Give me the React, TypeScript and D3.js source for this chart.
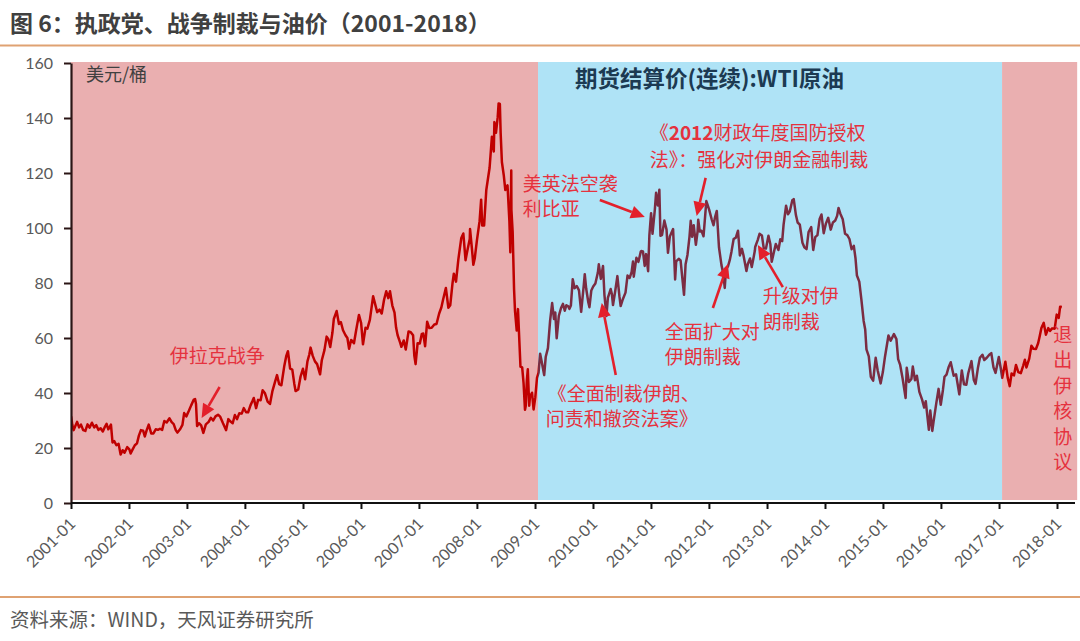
import React, { useEffect, useRef } from "react";
import * as d3 from "d3";

type Obs = [string, number]; // [MM-DD, WTI settle, USD/bbl]

const wti2001: Obs[] = [["01-02",31.5],["01-09",28.5],["01-18",26.5],["01-30",28.2],["02-09",29.5],["02-22",27.5],["03-06",28.5],["03-20",26.5],["04-03",26.2],["04-17",28.6],["04-30",27.4],["05-15",29.2],["05-30",27.5],["06-12",28.3],["06-26",26.6],["07-10",27.2],["07-24",26.0],["08-07",27.8],["08-17",28.8],["08-28",26.8],["09-06",27.6],["09-14",28.5],["09-24",22.0],["10-05",22.5],["10-19",21.0],["11-02",21.5],["11-15",17.6],["11-28",19.2],["12-10",18.3],["12-27",20.3]];
const wti2002: Obs[] = [["01-10",19.5],["01-18",18.0],["01-31",19.5],["02-14",21.0],["02-28",21.7],["03-12",24.5],["03-25",26.5],["04-08",26.3],["04-19",24.2],["05-01",26.5],["05-14",28.5],["05-30",25.3],["06-13",25.3],["06-28",26.8],["07-12",26.6],["07-25",27.0],["08-08",26.6],["08-22",29.8],["09-06",29.3],["09-24",30.8],["10-08",29.4],["10-21",28.7],["11-04",26.4],["11-14",25.6],["12-02",26.9],["12-16",28.4],["12-27",32.7]];
const wti2003: Obs[] = [["01-10",31.5],["01-27",33.6],["02-10",35.5],["02-27",37.6],["03-07",37.8],["03-13",36.0],["03-20",28.0],["04-01",29.0],["04-15",28.2],["04-29",25.5],["05-15",28.6],["06-02",29.5],["06-16",31.0],["07-01",30.0],["07-16",31.5],["08-01",32.1],["08-15",31.4],["09-02",29.0],["09-22",26.5],["10-06",30.5],["10-20",29.6],["11-03",29.0],["11-17",32.0],["12-01",30.5],["12-15",32.6],["12-31",32.5]];
const wti2004: Obs[] = [["01-13",34.5],["01-28",33.0],["02-10",33.0],["02-25",35.5],["03-08",37.0],["03-17",38.2],["04-01",34.5],["04-14",37.5],["04-30",37.4],["05-13",41.0],["05-28",39.9],["06-14",36.9],["06-29",36.0],["07-15",40.8],["07-30",43.8],["08-13",46.5],["08-27",43.2],["09-10",42.8],["09-28",49.6],["10-12",53.6],["10-22",55.2],["11-05",48.9],["11-19",48.5],["12-02",43.3],["12-10",40.7],["12-27",41.3]];
const wti2005: Obs[] = [["01-11",46.0],["01-26",48.8],["02-09",45.0],["02-24",51.5],["03-08",54.0],["03-16",56.5],["03-30",53.5],["04-13",51.5],["04-27",50.5],["05-16",46.8],["05-27",51.9],["06-13",55.6],["06-27",60.5],["07-08",59.6],["07-20",56.7],["08-03",61.9],["08-12",66.9],["08-30",69.8],["09-14",65.1],["09-26",65.8],["10-10",62.8],["10-26",61.0],["11-07",60.0],["11-18",56.1],["12-01",59.3],["12-19",58.1]];
const wti2006: Obs[] = [["01-03",63.1],["01-20",68.4],["02-03",65.4],["02-15",57.7],["03-03",63.7],["03-15",63.4],["03-31",66.6],["04-21",75.2],["05-03",72.5],["05-17",69.4],["06-01",70.3],["06-15",68.9],["06-30",73.9],["07-14",77.0],["07-27",74.5],["08-07",77.0],["08-22",71.8],["09-05",69.2],["09-15",63.8],["09-25",61.0],["10-10",58.5],["10-19",56.8],["11-03",59.1],["11-16",55.8],["12-04",62.4],["12-18",62.1]];
const wti2007: Obs[] = [["01-02",61.0],["01-10",53.5],["01-18",50.5],["01-31",58.1],["02-14",58.0],["02-27",61.5],["03-08",61.6],["03-20",57.0],["04-02",65.9],["04-16",63.6],["05-01",63.7],["05-18",64.9],["06-01",65.1],["06-18",68.9],["07-02",71.1],["07-13",73.9],["07-31",78.2],["08-16",71.0],["08-28",71.9],["09-12",80.1],["09-20",83.4],["10-04",80.5],["10-19",88.6],["11-07",96.4],["11-20",98.0],["12-04",88.3],["12-14",91.3],["12-31",96.0]];
const wti2008: Obs[] = [["01-02",99.6],["01-15",91.9],["01-23",86.6],["02-01",88.9],["02-15",95.5],["03-03",102.5],["03-13",110.3],["03-20",100.9],["04-01",100.9],["04-15",113.8],["04-28",118.8],["05-06",121.8],["05-21",133.2],["06-02",127.8],["06-06",138.5],["06-16",134.6],["06-27",140.2],["07-03",145.3],["07-11",145.1],["07-16",134.6],["07-24",124.0],["08-05",119.2],["08-15",113.8],["08-29",115.5],["09-10",102.6],["09-16",91.2],["09-22",120.9],["09-23",106.6],["10-01",98.5],["10-10",77.7],["10-16",69.9],["10-27",62.7],["11-04",70.5],["11-20",49.6],["12-01",49.3],["12-10",43.5],["12-19",33.9],["12-24",35.4],["12-31",44.6]];
const wti2009: Obs[] = [["01-06",48.6],["01-15",35.4],["01-20",38.7],["02-02",40.1],["02-12",34.0],["02-23",38.4],["03-06",45.5],["03-16",47.4],["03-26",54.3],["04-06",51.1],["04-21",46.5],["05-01",53.2],["05-15",56.3],["05-29",66.3],["06-11",72.7],["06-23",66.9],["07-01",69.3],["07-10",59.9],["07-24",68.1],["08-07",70.9],["08-19",72.4],["08-31",69.9],["09-10",71.9],["09-22",71.5],["09-30",70.6],["10-09",71.8],["10-21",81.4],["11-02",78.1],["11-16",78.9],["11-30",77.3],["12-14",69.5],["12-31",79.4]];
const wti2010: Obs[] = [["01-06",83.2],["01-15",78.0],["01-29",72.9],["02-05",71.2],["02-17",77.3],["03-01",78.7],["03-15",79.8],["03-31",83.8],["04-06",86.8],["04-19",81.5],["05-03",86.2],["05-12",75.7],["05-25",68.0],["06-03",74.6],["06-21",77.8],["06-29",75.9],["07-06",72.0],["07-20",77.0],["08-03",82.5],["08-16",75.2],["08-24",71.6],["09-07",74.1],["09-24",76.5],["10-07",82.7],["10-20",81.8],["11-02",83.9],["11-11",87.8],["11-16",82.3],["12-03",89.2],["12-16",87.7],["12-31",91.4]];
const wti2011: Obs[] = [["01-03",91.6],["01-14",91.5],["01-25",86.2],["02-03",90.5],["02-16",84.3],["02-24",97.3],["03-07",105.4],["03-16",97.9],["03-31",106.7],["04-08",112.8],["04-19",108.2],["04-29",113.9],["05-06",97.2],["05-16",97.4],["05-31",102.7],["06-14",99.4],["06-23",91.0],["07-05",96.9],["07-26",99.6],["08-08",81.3],["08-15",87.9],["08-31",88.8],["09-12",88.2],["09-26",80.2],["10-04",75.7],["10-14",86.8],["10-26",90.2],["11-08",96.8],["11-16",102.6],["11-25",96.8],["12-05",101.0],["12-19",93.9],["12-30",98.8]];
const wti2012: Obs[] = [["01-03",103.0],["01-13",98.7],["01-24",99.0],["02-06",97.0],["02-24",109.8],["03-01",108.8],["03-13",106.7],["03-30",103.0],["04-10",101.0],["04-20",104.0],["05-01",106.2],["05-15",93.0],["05-31",86.5],["06-12",83.3],["06-21",78.2],["06-29",85.0],["07-12",86.1],["07-24",88.5],["08-03",91.4],["08-17",96.0],["08-31",96.5],["09-14",99.0],["09-26",90.0],["10-09",92.4],["10-19",90.1],["11-07",84.4],["11-16",86.9],["11-30",88.9],["12-11",85.8],["12-21",88.7],["12-31",91.8]];
const wti2013: Obs[] = [["01-02",93.1],["01-18",95.6],["01-30",97.9],["02-14",97.3],["02-26",92.6],["03-12",92.5],["03-28",97.2],["04-09",94.2],["04-18",87.7],["05-01",91.0],["05-14",94.2],["05-31",92.0],["06-12",95.9],["06-24",95.2],["07-03",101.2],["07-19",108.1],["07-31",105.0],["08-12",106.1],["08-28",110.1],["09-06",110.5],["09-20",104.7],["10-01",102.0],["10-15",101.2],["11-01",94.6],["11-13",93.0],["11-27",92.3],["12-10",98.5],["12-27",100.3]];
const wti2014: Obs[] = [["01-09",92.0],["01-22",96.7],["02-05",97.4],["02-19",103.3],["03-03",104.9],["03-17",98.1],["03-31",101.6],["04-15",103.7],["05-01",99.4],["05-15",102.0],["05-30",102.7],["06-11",104.4],["06-20",107.3],["07-01",105.3],["07-17",103.2],["08-01",97.9],["08-15",97.4],["08-29",96.0],["09-12",92.3],["09-26",93.5],["10-07",88.9],["10-16",82.7],["10-31",80.5],["11-13",74.2],["11-28",66.2],["12-08",63.1],["12-16",55.9],["12-31",53.3]];
const wti2015: Obs[] = [["01-13",45.9],["01-28",44.5],["02-13",52.8],["02-26",48.2],["03-17",43.5],["03-31",47.6],["04-14",53.3],["05-06",60.9],["05-20",59.0],["06-10",61.4],["06-26",59.6],["07-07",52.3],["07-20",50.2],["08-05",45.2],["08-24",38.2],["08-31",49.2],["09-14",44.0],["09-30",45.1],["10-09",49.6],["10-23",44.6],["11-04",46.3],["11-20",40.4],["12-07",37.7],["12-21",34.7],["12-31",37.0]];
const wti2016: Obs[] = [["01-07",33.3],["01-20",26.6],["01-29",33.6],["02-11",26.2],["02-19",29.6],["03-08",36.5],["03-22",41.5],["04-05",35.7],["04-19",41.1],["04-29",45.9],["05-12",46.7],["05-26",49.5],["06-08",51.2],["06-27",46.3],["07-12",46.8],["08-02",39.5],["08-18",48.2],["09-01",43.2],["09-16",43.0],["09-28",47.1],["10-19",51.6],["11-03",44.7],["11-14",43.3],["11-30",49.4],["12-12",52.8],["12-28",53.9]];
const wti2017: Obs[] = [["01-09",52.0],["01-25",52.8],["02-10",53.9],["02-23",54.5],["03-09",49.3],["03-22",47.3],["04-12",53.1],["04-24",49.2],["05-04",45.5],["05-24",51.4],["06-08",45.6],["06-21",42.5],["07-03",47.1],["07-18",46.4],["07-31",50.2],["08-15",47.6],["08-31",47.2],["09-15",49.9],["09-26",52.1],["10-06",49.3],["10-24",52.5],["11-07",57.2],["11-20",56.1],["12-06",56.0],["12-20",58.1],["12-29",60.4]];
const wti2018: Obs[] = [["01-10",63.6],["01-25",65.5],["02-08",61.2],["02-23",63.6],["03-06",62.6],["03-20",63.5],["04-05",63.4],["04-18",68.5],["05-01",67.3],["05-10",71.4],["05-21",71.3]];

const wtiByYear: [number, Obs[]][] = [
  [2001, wti2001], [2002, wti2002], [2003, wti2003], [2004, wti2004], [2005, wti2005], [2006, wti2006],
  [2007, wti2007], [2008, wti2008], [2009, wti2009], [2010, wti2010], [2011, wti2011], [2012, wti2012],
  [2013, wti2013], [2014, wti2014], [2015, wti2015], [2016, wti2016], [2017, wti2017], [2018, wti2018],
];

const yTickValues = [0, 20, 40, 60, 80, 100, 120, 140, 160];
const xTickLabels = ["2001-01","2002-01","2003-01","2004-01","2005-01","2006-01","2007-01","2008-01","2009-01","2010-01","2011-01","2012-01","2013-01","2014-01","2015-01","2016-01","2017-01","2018-01"];

// ruling party periods (US presidency)
const partyFrom = ["2001-01-01", "2009-01-20", "2017-01-20"];
const partyTo = ["2009-01-20", "2017-01-20", "2018-05-08"];
const partyName = ["共和党", "民主党", "共和党"];

type Seg = [string, boolean];
type Note = { tip: Obs; tail: [number, number]; lines: { at: [number, number]; segs: Seg[] }[] };
const notes: Note[] = [
  { tip: ["2003-04-18", 30.9], tail: [18, -31], lines: [{ at: [-32, -55], segs: [["伊拉克战争", false]] }] },
  { tip: ["2011-01-26", 104.0], tail: [-45, -17], lines: [
    { at: [-122, -26], segs: [["美英法空袭", false]] },
    { at: [-122, -1], segs: [["利比亚", false]] } ] },
  { tip: ["2011-12-24", 104.4], tail: [9, -38], lines: [
    { at: [-47, -76], segs: [["《", false], ["2012", true], ["财政年度国防授权", false]] },
    { at: [-47, -49], segs: [["法》：强化对伊朗金融制裁", false]] } ] },
  { tip: ["2012-07-11", 86.9], tail: [-15, 44], lines: [
    { at: [-63, 75], segs: [["全面扩大对", false]] },
    { at: [-63, 100], segs: [["伊朗制裁", false]] } ] },
  { tip: ["2013-01-19", 93.8], tail: [25, 42], lines: [
    { at: [5, 58], segs: [["升级对伊", false]] },
    { at: [5, 84], segs: [["朗制裁", false]] } ] },
  { tip: ["2010-04-25", 72.7], tail: [14, 72], lines: [
    { at: [-54, 98], segs: [["《全面制裁伊朗、", false]] },
    { at: [-56, 123], segs: [["问责和撤资法案》", false]] } ] },
];
const exitNote = { date: "2018-05-08", value: 61.1, text: "退出伊核协议" };

const CJK = "'Noto Sans CJK SC', 'Noto Sans', sans-serif";
const NUM = "Lato, 'Noto Sans', sans-serif";
const RED_TEXT = "#E5323E";
const RED_ARROW = "#E3202B";

const parseDay = d3.timeParse("%Y-%m-%d");
const parseMonth = d3.timeParse("%Y-%m");

export default function App() {
  const yAxisRef = useRef<SVGGElement>(null);
  const xAxisRef = useRef<SVGGElement>(null);

  const y = d3.scaleLinear().domain([0, 160]).range([503, 63]);
  // axis (tick) scale and data scale as measured in the reference
  const axisX = d3.scaleTime().domain([new Date(2001, 0, 1), new Date(2018, 0, 1)]).range([71, 1057]);
  const dataX = d3.scaleTime().domain([new Date(2001, 0, 1), new Date(2018, 0, 1)]).range([71, 71 + 57 * 17]);

  const points = wtiByYear.flatMap(([yr, obs]) =>
    obs.map(([md, v]) => ({ date: parseDay(`${yr}-${md}`) as Date, value: v }))
  );
  const line = d3.line<{ date: Date; value: number }>().x((d) => dataX(d.date)).y((d) => y(d.value));
  const pathD = line(points) || "";

  const bands = partyFrom.map((f, i) => ({
    x0: axisX(parseDay(f) as Date),
    x1: axisX(parseDay(partyTo[i]) as Date),
    party: partyName[i],
  }));
  const bandFill: Record<string, string> = { 共和党: "#EAAFB0", 民主党: "#AFE3F6" };
  const lineColor: Record<string, string> = { 共和党: "#C00000", 民主党: "#7B2C42" };

  useEffect(() => {
    const gy = d3.select(yAxisRef.current as SVGGElement);
    gy.selectAll("*").remove();
    gy.call(d3.axisLeft(y).tickValues(yTickValues).tickSize(7).tickSizeOuter(0).tickPadding(11) as any);
    gy.attr("font-family", null).attr("font-size", null);
    gy.select(".domain").attr("stroke", "#2a1515").attr("stroke-width", 2.2);
    gy.selectAll(".tick line").attr("stroke", "#2a1515").attr("stroke-width", 2);
    gy.selectAll(".tick text").attr("fill", "#595959").attr("font-size", 16).attr("font-family", NUM);

    const gx = d3.select(xAxisRef.current as SVGGElement);
    gx.selectAll("*").remove();
    const tickDates = xTickLabels.map((s) => parseMonth(s) as Date);
    gx.call(
      d3.axisBottom(axisX).tickValues(tickDates).tickFormat((d) => d3.timeFormat("%Y-%m")(d as Date)).tickSize(6).tickSizeOuter(0) as any
    );
    gx.attr("font-family", null).attr("font-size", null);
    gx.select(".domain").attr("d", `M71,0H1075`).attr("stroke", "#111").attr("stroke-width", 2);
    gx.selectAll(".tick line").attr("stroke", "#111").attr("stroke-width", 2);
    gx.selectAll(".tick text")
      .attr("fill", "#595959").attr("font-size", 16).attr("font-family", NUM)
      .attr("x", 0).attr("y", 0).attr("dy", "0.35em").attr("text-anchor", "end")
      .attr("transform", "translate(1,18) rotate(-45)");
  }, []);

  const arrow = (tx: number, ty: number, sx: number, sy: number, key: string) => {
    const ang = Math.atan2(ty - sy, tx - sx);
    const hl = 14, hw = 6.5;
    const bx = tx - hl * Math.cos(ang), by = ty - hl * Math.sin(ang);
    const px = -Math.sin(ang), py = Math.cos(ang);
    return (
      <g key={key}>
        <line x1={sx} y1={sy} x2={bx} y2={by} stroke={RED_ARROW} strokeWidth={2.6} />
        <polygon points={`${tx},${ty} ${bx + px * hw},${by + py * hw} ${bx - px * hw},${by - py * hw}`} fill={RED_ARROW} />
      </g>
    );
  };

  const exitX = dataX(parseDay(exitNote.date) as Date) + 3;
  const exitY0 = y(exitNote.value);

  return (
    <div style={{ position: "absolute", left: 0, top: 0 }}>
      <svg width={1080} height={641} viewBox="0 0 1080 641" style={{ display: "block", background: "#fff" }}>
        <defs>
          {bands.map((b, i) => (
            <clipPath id={`clip-${i}`} key={i}>
              <rect x={b.x0} y={0} width={b.x1 - b.x0} height={641} />
            </clipPath>
          ))}
        </defs>
        {/* header */}
        <text x={10} y={32} fontFamily={CJK} fontSize={23} fontWeight={700} fill="#404040">
          图 6：执政党、战争制裁与油价（2001-2018）
        </text>
        <line x1={0} x2={1080} y1={45.5} y2={45.5} stroke="#DFA272" strokeWidth={2} />

        {/* party bands */}
        {bands.map((b, i) => (
          <rect key={i} x={b.x0} y={y(160) - 1} width={b.x1 - b.x0} height={y(0) - 3 - (y(160) - 1)} fill={bandFill[b.party]} />
        ))}

        {/* WTI line, coloured by period */}
        {bands.map((b, i) => (
          <path key={i} d={pathD} fill="none" stroke={lineColor[b.party]} strokeWidth={2.5}
            strokeLinejoin="round" clipPath={`url(#clip-${i})`} />
        ))}

        <g ref={yAxisRef} transform="translate(71,0)" />
        <g ref={xAxisRef} transform="translate(0,503)" />

        <text x={86} y={81} fontFamily={CJK} fontSize={18} fill="#404040">美元/桶</text>
        <text x={575} y={87} fontFamily={CJK} fontSize={22.5} fontWeight={700} fill="#1C3A52">
          期货结算价(连续):WTI原油
        </text>

        {notes.map((n, i) => {
          const tx = dataX(parseDay(n.tip[0]) as Date);
          const ty = y(n.tip[1]);
          return (
            <g key={i}>
              {arrow(tx, ty, tx + n.tail[0], ty + n.tail[1], `a${i}`)}
              {n.lines.map((l, j) => (
                <text key={j} x={tx + l.at[0]} y={ty + l.at[1]} fontFamily={CJK} fontSize={19} fill={RED_TEXT}>
                  {l.segs.map(([s, b], k) => (
                    <tspan key={k} fontWeight={b ? 700 : 400}>{s}</tspan>
                  ))}
                </text>
              ))}
            </g>
          );
        })}

        {exitNote.text.split("").map((c, i) => (
          <text key={i} x={exitX} y={exitY0 + 7 + i * 25.5} textAnchor="middle" fontFamily={CJK} fontSize={19} fill={RED_TEXT}>
            {c}
          </text>
        ))}

        {/* footer */}
        <line x1={0} x2={1080} y1={597} y2={597} stroke="#DFA272" strokeWidth={2} />
        <text x={10} y={627} fontFamily={CJK} fontSize={19.5} fill="#595959">资料来源：WIND，天风证券研究所</text>
      </svg>
    </div>
  );
}
